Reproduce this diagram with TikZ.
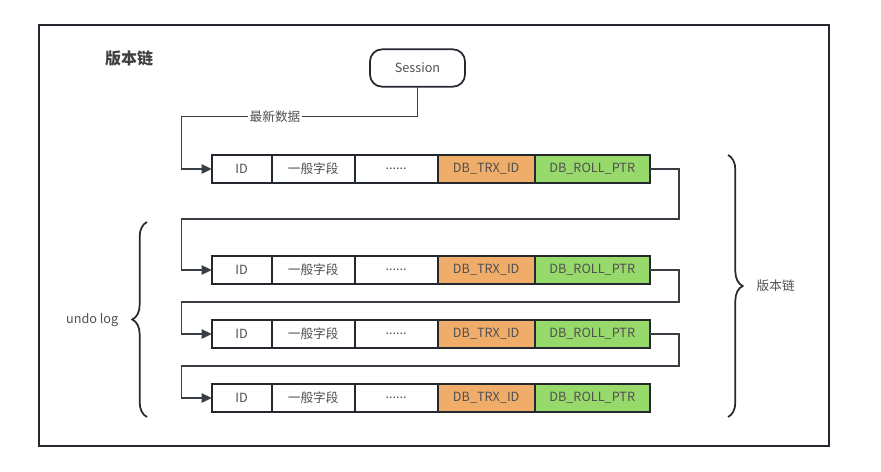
\documentclass[tikz,border=0pt]{standalone}
\usepackage{fontspec}
\setmainfont{Noto Sans CJK SC}
\usetikzlibrary{positioning,arrows.meta,decorations.pathreplacing}
\definecolor{lineC}{HTML}{23292F}
\definecolor{trxC}{HTML}{F0AD6A}
\definecolor{rollC}{HTML}{97D96A}
\definecolor{txtC}{HTML}{505050}
\tikzset{
  cell/.style={draw=lineC,line width=1.5pt,minimum height=21pt,inner sep=0pt,
    outer sep=0pt,text=txtC,font=\fontsize{9.5}{11}\selectfont},
  link/.style={draw=lineC!90,line width=1.1pt},
  arrowlink/.style={link,-{Triangle[length=7.5pt,width=7pt]}},
  curly/.style={draw=lineC,line width=1.3pt,decorate,
    decoration={brace,amplitude=11pt}},
}
\begin{document}
\begin{tikzpicture}[x=0.75pt,y=-0.75pt]
  \useasboundingbox (0,0) rectangle (881,471);
  \draw [lineC,line width=1.5pt] (39,25) rectangle (829,446);
  \node [font=\bfseries\fontsize{12}{14}\selectfont,text=txtC!80!black] (title) at (129,58) {版本链};
  % Session
  \node [draw=lineC,line width=1.3pt,rounded corners=9pt,minimum width=71.25pt,
    minimum height=28pt,outer sep=0pt,text=txtC,font=\fontsize{9.5}{11}\selectfont] (sess) at (417.5,68) {Session};
  % rows
  \foreach \r/\y in {1/169,2/270,3/334,4/398}{
    \node [cell,minimum width=45pt,anchor=west] (r\r id) at (211.7,\y) {ID};
    \node [cell,minimum width=62.25pt,right=0pt of r\r id] (r\r f) {一般字段};
    \node [cell,minimum width=62.25pt,right=0pt of r\r f] (r\r d) {......};
    \node [cell,minimum width=72.75pt,fill=trxC,right=0pt of r\r d] (r\r trx) {DB\_TRX\_ID};
    \node [cell,minimum width=86.25pt,fill=rollC,right=0pt of r\r trx] (r\r roll) {DB\_ROLL\_PTR};
  }
  % connectors
  \coordinate (j1) at (181.7,116.7);
  \draw [arrowlink] (sess.south) |- (j1) |- (r1id.west);
  \node [fill=white,inner sep=1pt,text=txtC,font=\fontsize{9.5}{11}\selectfont] (lbl) at (275,116.7) {最新数据};
  \foreach \a/\b/\ty in {1/2/219,2/3/302,3/4/366}{
    \coordinate (t\a) at (679,\ty);
    \draw [arrowlink] (r\a roll.east) -| (t\a) -- (t\a -| j1) |- (r\b id.west);
  }
  % braces
  \coordinate (lbB) at (147,417);
  \coordinate (lbT) at (147,222);
  \draw [curly] (lbB) -- (lbT);
  \node [anchor=east,text=txtC,font=\fontsize{9.5}{11}\selectfont] (undo) at (123,320) {undo log};
  \coordinate (rbT) at (728,155);
  \coordinate (rbB) at (728,417);
  \draw [curly] (rbT) -- (rbB);
  \node [anchor=west,text=txtC,font=\fontsize{9.5}{11}\selectfont] (chain) at (752,286) {版本链};
\end{tikzpicture}
\end{document}
